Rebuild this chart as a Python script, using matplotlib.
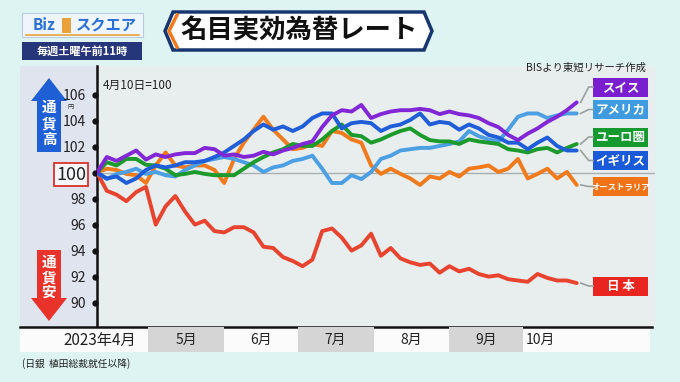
import matplotlib.pyplot as plt
import matplotlib.patches as mpatches
import matplotlib.transforms as mtransforms
import matplotlib.dates as mdates
import pandas as pd

plt.rcParams['font.family'] = ['Noto Sans CJK JP', 'DejaVu Sans']

# days after 2023-04-10 (4月10日=100)
days = list(range(0, 197, 4))
dates = pd.Timestamp('2023-04-10') + pd.to_timedelta(days, unit='D')

japan = [100.0, 98.6, 98.3, 97.8, 98.5, 98.9, 96.0, 97.4, 98.2, 97.0,
         96.0, 96.3, 95.5, 95.4, 95.8, 95.8, 95.4, 94.3, 94.2, 93.5,
         93.2, 92.8, 93.3, 95.5, 95.7, 95.0, 94.0, 94.4, 95.3, 93.6,
         94.2, 93.4, 93.1, 92.9, 93.0, 92.3, 92.8, 92.4, 92.6, 92.2,
         92.0, 92.1, 91.8, 91.7, 91.6, 92.2, 91.9, 91.7, 91.7, 91.5]
swiss = [100.0, 101.2, 100.9, 101.3, 101.7, 101.0, 101.4, 101.2, 101.4, 101.5,
         101.5, 101.9, 101.8, 101.3, 101.4, 101.2, 101.3, 101.6, 101.4, 101.7,
         101.9, 102.2, 102.4, 103.5, 104.4, 104.8, 104.7, 105.2, 104.2, 104.5,
         104.7, 104.8, 104.8, 104.9, 104.8, 104.5, 104.7, 104.5, 104.4, 104.2,
         103.8, 103.5, 102.9, 102.5, 103.0, 103.4, 103.9, 104.3, 104.8, 105.4]
usa = [100.0, 99.5, 99.9, 100.05, 100.3, 99.9, 100.05, 99.8, 99.7, 100.2,
       100.55, 100.9, 101.05, 101.2, 101.05, 100.8, 100.55, 100.05, 100.4, 100.55,
       100.9, 101.05, 101.3, 100.3, 99.2, 99.2, 99.8, 99.5, 100.05, 101.05,
       101.3, 101.7, 101.8, 101.9, 101.9, 102.05, 102.2, 102.4, 103.2, 102.8,
       102.55, 102.4, 103.3, 104.3, 104.55, 104.55, 104.2, 104.4, 104.55, 104.55]
euro = [100.0, 100.8, 100.55, 101.05, 101.05, 100.6, 100.55, 100.3, 99.8, 99.9,
        100.05, 99.9, 99.8, 99.8, 99.8, 100.3, 100.8, 101.2, 101.55, 101.8,
        102.2, 102.05, 102.05, 102.55, 103.2, 103.7, 102.9, 102.8, 102.3, 102.55,
        102.9, 103.2, 103.4, 102.9, 102.5, 102.4, 102.4, 102.2, 102.55, 102.4,
        102.3, 102.2, 101.8, 101.7, 101.55, 101.8, 101.9, 101.55, 101.9, 102.2]
uk = [100.0, 99.55, 99.7, 99.2, 99.55, 100.2, 100.55, 100.4, 100.55, 100.8,
      100.8, 100.9, 101.2, 101.55, 102.05, 102.55, 103.2, 103.7, 103.3, 103.55,
      103.2, 103.55, 104.2, 104.55, 104.55, 103.4, 103.8, 103.9, 103.8, 103.2,
      103.55, 103.7, 104.05, 104.55, 103.7, 103.9, 103.8, 103.3, 103.7, 103.4,
      102.9, 102.7, 102.3, 102.3, 101.8, 102.3, 102.7, 102.05, 101.7, 101.7]
australia = [100.0, 100.3, 100.2, 99.9, 99.8, 99.2, 100.55, 101.55, 100.55, 100.4,
             100.55, 100.55, 100.2, 99.2, 101.05, 102.3, 103.3, 104.3, 103.3, 102.55,
             101.8, 101.9, 102.2, 102.05, 103.2, 103.05, 102.55, 102.3, 100.55, 99.9,
             100.3, 99.9, 99.55, 99.05, 99.7, 99.55, 100.05, 99.7, 100.3, 100.4,
             100.55, 100.05, 100.3, 101.05, 99.55, 99.9, 100.3, 99.55, 100.05, 99.05]

names = ['日 本', 'オーストラリア', 'アメリカ', 'ユーロ圏', 'イギリス', 'スイス']
values = [japan, australia, usa, euro, uk, swiss]
line_colors = ['#e8432e', '#f07a1c', '#4d9fe3', '#1c9a2c', '#1f5ed8', '#8127d6']
box_colors = ['#e8251f', '#f07318', '#3f9be0', '#149a2e', '#1a5ad8', '#7a1fd0']
box_y = [286, 186.5, 109.5, 137, 160.5, 87]  # label box centres, pixels

yticks = [90, 92, 94, 96, 98, 100, 102, 104, 106]
month_names = ['5月', '6月', '7月', '8月', '9月', '10月']
month_starts = pd.to_datetime(['2023-05-01', '2023-06-01', '2023-07-01',
                               '2023-08-01', '2023-09-01', '2023-10-01', '2023-11-01'])

W, H = 680, 382
fig = plt.figure(figsize=(W / 100, H / 100), dpi=100)
fig.patch.set_facecolor('#ddf4f3')

bg = fig.add_axes([0, 0, 1, 1], zorder=0)
bg.set_xlim(0, W)
bg.set_ylim(H, 0)
bg.axis('off')

# panels
bg.add_patch(mpatches.Rectangle((20, 66), 77, 260, fc='#dfe4ef', ec='none'))
bg.add_patch(mpatches.Rectangle((97, 66), 558, 260, fc='#e8eeed', ec='none'))
bg.add_patch(mpatches.Rectangle((20, 327), 630, 25, fc='#fbfbfb', ec='none'))
bg.plot([20, 652], [326.5, 326.5], color='#111111', lw=1.8)

# main axes
ax = fig.add_axes([97 / W, 1 - 326 / H, 558 / W, 260 / H], zorder=2)
ax.patch.set_alpha(0)
ax.set_xlim(dates[0], dates[0] + pd.Timedelta(days=228))
ax.set_ylim(88.2, 108.2)
for s in ['top', 'right', 'bottom']:
    ax.spines[s].set_visible(False)
ax.spines['left'].set_linewidth(1.8)
ax.spines['left'].set_color('#111111')
ax.set_xticks([])
ax.set_yticks(yticks)
ax.set_yticklabels([str(v) for v in yticks], fontsize=10, color='#222222')
ax.tick_params(axis='y', length=0, pad=8)
for lbl in ax.get_yticklabels():
    if lbl.get_text() == '100':
        lbl.set_fontsize(13)
        lbl.set_bbox(dict(boxstyle='square,pad=0.12', fc='#f4f6f9', ec='#d9312b', lw=1.3))
blend = mtransforms.blended_transform_factory(ax.transAxes, ax.transData)
ax.plot([-0.004] * len(yticks), yticks, 'o', color='#111111', ms=3.5,
        transform=blend, clip_on=False)
ax.axhline(100, color='#a8b0b0', lw=1, zorder=1)

for name, vals, c in zip(names, values, line_colors):
    ax.plot(dates, vals, color=c, lw=2.8, solid_joinstyle='round',
            solid_capstyle='round', zorder=3)

# month band
bx = mtransforms.blended_transform_factory(ax.transData, ax.transAxes)
band_lo, band_h = -26 / 260, 25 / 260
for i in range(len(month_names)):
    if i % 2 == 0:
        ax.add_patch(mpatches.Rectangle((month_starts[i], band_lo), month_starts[i + 1] - month_starts[i],
                                        band_h, transform=bx, fc='#d5d5d5', ec='none', clip_on=False))
    if i < 5:
        mid = month_starts[i] + (month_starts[i + 1] - month_starts[i]) / 2
    else:
        mid = month_starts[i] + pd.Timedelta(days=7)
    ax.text(mid, band_lo + band_h / 2, month_names[i], transform=bx, ha='center',
            va='center', fontsize=10, color='#222222', clip_on=False)
bg.text(100, 340, '2023年4月', ha='center', va='center', fontsize=11, color='#222222')

# right labels with connectors
xe = mdates.date2num(dates[-1])
for name, vals, bc, yc in zip(names, values, box_colors, box_y):
    dx, dy = ax.transData.transform((xe, vals[-1]))
    px, py = dx, H - dy
    bg.plot([px + 4, px + 12, 593], [py, yc, yc], color='#9a9f9f', lw=1.2)
    bg.add_patch(mpatches.Rectangle((593, yc - 9.5), 55, 19, fc=bc, ec='none'))
    fs = 6.0 if len(name) > 5 else 9
    bg.text(620.5, yc + 0.5, name, ha='center', va='center', fontsize=fs,
            color='white', fontweight='bold')

# texts
bg.text(103, 85, '4月10日=100', ha='left', va='center', fontsize=8.5, color='#222222')
bg.text(646, 68, 'BISより東短リサーチ作成', ha='right', va='center', fontsize=7.5, color='#222222')
bg.text(71, 107, '円', ha='center', va='center', fontsize=4.5, color='#333333')
bg.text(22, 364, '(日銀  植田総裁就任以降)', ha='left', va='center', fontsize=7, color='#222222')

# arrows
bg.add_patch(mpatches.Polygon([(49, 78), (67, 101), (61, 101), (61, 152), (37, 152),
                               (37, 101), (31, 101)], closed=True, fc='#1f5fd6', ec='none'))
bg.add_patch(mpatches.Polygon([(37, 250), (61, 250), (61, 298), (67, 298), (49, 321),
                               (31, 298), (37, 298)], closed=True, fc='#e8322a', ec='none'))
for ch, y in zip('通貨高', [107, 123, 139]):
    bg.text(49, y, ch, ha='center', va='center', fontsize=10.5, color='white', fontweight='bold')
for ch, y in zip('通貨安', [262, 277, 292]):
    bg.text(49, y, ch, ha='center', va='center', fontsize=10.5, color='white', fontweight='bold')

# title box
bg.add_patch(mpatches.Polygon([(173, 12), (424, 12), (432, 31), (424, 50), (173, 50), (165, 31)],
                              closed=True, fc='white', ec='#17366f', lw=2.5))
bg.plot([177, 169, 177], [15, 31, 47], color='#f07a1c', lw=2.5)
bg.text(299, 31, '名目実効為替レート', ha='center', va='center', fontsize=19,
        fontweight='bold', color='#111111')

# logo
bg.add_patch(mpatches.Rectangle((22, 13), 121, 24, fc='#eef6fb', ec='#b8cbe0', lw=0.8))
bg.plot([26, 139], [34.5, 34.5], color='#e9a23b', lw=1.2)
bg.text(44, 24.5, 'Biz', ha='center', va='center', fontsize=11, fontweight='bold',
        color='#2a6fd6', style='italic')
bg.add_patch(mpatches.Rectangle((62, 18), 9, 15, fc='#e9a23b', ec='none'))
bg.text(106, 24.5, 'スクエア', ha='center', va='center', fontsize=11, fontweight='bold',
        color='#2a6fd6')
bg.add_patch(mpatches.Rectangle((22, 42), 120, 18, fc='#27367a', ec='none'))
bg.text(82, 51, '毎週土曜午前11時', ha='center', va='center', fontsize=8,
        fontweight='bold', color='white')

fig.savefig('out.png', dpi=100, facecolor=fig.get_facecolor())
